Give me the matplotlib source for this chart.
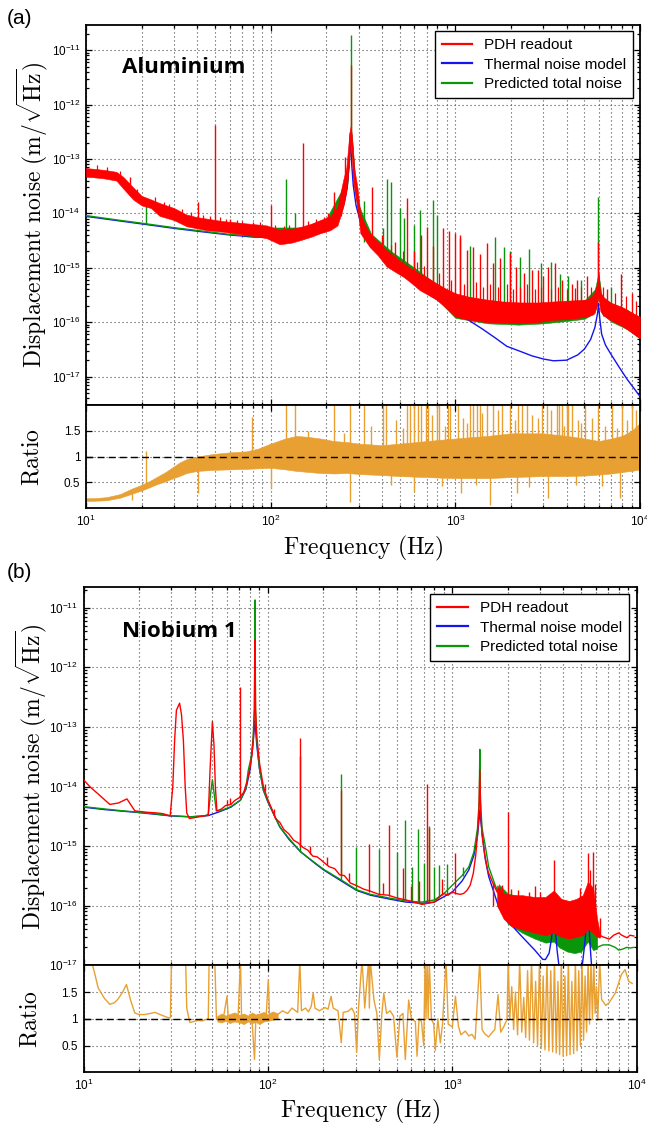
import numpy as np
import matplotlib
matplotlib.use('Agg')
import matplotlib.pyplot as plt
from matplotlib.ticker import LogLocator, NullFormatter, FixedLocator
from matplotlib.lines import Line2D

plt.rcParams['font.family'] = ['Liberation Sans', 'DejaVu Sans']
plt.rcParams['mathtext.fontset'] = 'custom'
plt.rcParams['mathtext.rm'] = 'Liberation Sans'
plt.rcParams['mathtext.it'] = 'Liberation Sans:italic'
plt.rcParams['mathtext.bf'] = 'Liberation Sans:bold'

RED, BLUE, GREEN, ORANGE = '#ff0000', '#1414f0', '#0a960a', '#e8a033'

# ---------------- (a) Aluminium ----------------
al_blue = [(10, 8.8e-15), (15, 7.3e-15), (20, 6.4e-15), (30, 5.3e-15), (40, 4.7e-15), (60, 4.0e-15),
           (80, 3.7e-15), (100, 3.6e-15), (130, 3.7e-15), (160, 4.1e-15), (200, 5.4e-15), (230, 8.0e-15),
           (250, 1.5e-14), (260, 3.2e-14), (266, 9e-14), (270, 3e-13), (274, 9e-14), (280, 3.3e-14),
           (290, 1.4e-14), (310, 6.0e-15), (350, 2.8e-15), (400, 1.7e-15), (500, 8.5e-16), (700, 3.5e-16),
           (1000, 1.55e-16), (1200, 1.05e-16), (1400, 7.5e-17), (1650, 5.1e-17), (1900, 3.6e-17),
           (2250, 2.9e-17), (2600, 2.4e-17), (3000, 2.1e-17), (3400, 1.95e-17), (4000, 2.0e-17),
           (4600, 2.5e-17), (5000, 3.2e-17), (5400, 4.8e-17), (5700, 8e-17), (5900, 1.5e-16),
           (5960, 2.2e-16), (6050, 1.2e-16), (6200, 6e-17), (6500, 3.8e-17), (6900, 2.7e-17),
           (7700, 1.5e-17), (8500, 9e-18), (9300, 6e-18), (10000, 4.3e-18)]

al_green_line = [(10, 9.1e-15), (15, 7.5e-15), (20, 6.6e-15), (30, 5.45e-15), (40, 4.85e-15),
                 (60, 4.1e-15), (80, 3.8e-15), (100, 3.7e-15)]
al_green_band_f = [70, 100, 150, 200, 240, 260, 268, 272, 276, 285, 300, 350, 450, 600, 800, 1000,
                   1500, 2200, 3000, 4000, 5000, 5700, 5960, 6200, 7000, 8500, 10000]
al_green_band_lo = [3.8e-15, 3.6e-15, 3.9e-15, 5.3e-15, 1.0e-14, 3.2e-14, 1.2e-13, 2.5e-13, 1.2e-13,
                    3e-14, 8e-15, 2.5e-15, 1.1e-15, 5e-16, 2.6e-16, 1.2e-16, 9.5e-17, 9e-17, 9.5e-17,
                    1.05e-16, 1.15e-16, 1.5e-16, 3e-16, 1.45e-16, 1.02e-16, 7.5e-17, 5e-17]
al_green_band_hi = [5.5e-15, 5.5e-15, 5.5e-15, 8e-15, 2.5e-14, 6e-14, 2.5e-13, 3.5e-13, 2.5e-13,
                    5e-14, 1.4e-14, 4.2e-15, 2e-15, 1e-15, 4.8e-16, 3.2e-16, 2.5e-16, 2.2e-16,
                    2.2e-16, 2.4e-16, 2.5e-16, 4e-16, 8e-16, 3e-16, 2.2e-16, 1.7e-16, 1.2e-16]

al_red_band = [  # freq, low edge, high edge
    (10, 4.7e-14, 6.8e-14), (11, 4.6e-14, 6.6e-14), (12.5, 4.4e-14, 6.3e-14), (14.6, 4.0e-14, 5.8e-14),
    (16, 2.8e-14, 4.6e-14), (18, 1.8e-14, 3.0e-14), (20, 1.4e-14, 2.1e-14), (22.5, 1.25e-14, 1.8e-14),
    (25, 9e-15, 1.55e-14), (30, 7.5e-15, 1.25e-14), (35, 5.8e-15, 9.5e-15), (40, 5.3e-15, 8.5e-15),
    (45, 4.9e-15, 8.0e-15), (55, 4.6e-15, 7.2e-15), (63, 4.3e-15, 6.9e-15), (75, 4.0e-15, 6.5e-15),
    (95, 3.5e-15, 6.0e-15), (112, 2.7e-15, 5.0e-15), (130, 2.9e-15, 5.2e-15), (144, 3.2e-15, 5.6e-15),
    (165, 3.7e-15, 6.4e-15), (185, 4.3e-15, 7.5e-15), (210, 4.9e-15, 8.8e-15), (230, 6.0e-15, 1.3e-14),
    (247, 1.3e-14, 4.1e-14), (257, 2.5e-14, 7e-14), (263, 5.4e-14, 1.7e-13), (267, 1.1e-13, 3e-13),
    (271, 2.2e-13, 4e-13), (275, 1.2e-13, 2.8e-13), (279, 4.1e-14, 1.45e-13), (285, 2.5e-14, 6e-14),
    (295, 1.3e-14, 3e-14), (306, 4.3e-15, 1.0e-14), (325, 3.2e-15, 6e-15), (344, 2.4e-15, 4.3e-15),
    (380, 1.7e-15, 3.0e-15), (425, 1.05e-15, 2.1e-15), (470, 8.5e-16, 1.6e-15), (524, 6.8e-16, 1.2e-15),
    (580, 5.2e-16, 9.5e-16), (640, 3.9e-16, 7.8e-16), (710, 3.2e-16, 6.5e-16), (790, 2.6e-16, 5.2e-16),
    (880, 1.9e-16, 4.2e-16), (1000, 1.26e-16, 3.4e-16), (1200, 1.1e-16, 2.9e-16), (1480, 1.0e-16, 2.6e-16),
    (1800, 9.8e-17, 2.4e-16), (2250, 9.6e-17, 2.3e-16), (2800, 1.0e-16, 2.3e-16), (3400, 1.1e-16, 2.4e-16),
    (4200, 1.15e-16, 2.5e-16), (5160, 1.26e-16, 2.6e-16), (5600, 1.4e-16, 3.2e-16), (5850, 2e-16, 5e-16),
    (5960, 3e-16, 8e-16), (6100, 1.6e-16, 3.5e-16), (6400, 1.3e-16, 2.8e-16), (6920, 1.1e-16, 2.3e-16),
    (8000, 8.5e-17, 1.9e-16), (9000, 6.5e-17, 1.5e-16), (10000, 5e-17, 1.26e-16)]

al_red_spikes = [  # freq, base, top
    (17.3, 2.2e-14, 4.7e-14), (40.6, 6e-15, 1.6e-14), (50, 5e-15, 4.2e-13), (60, 4.5e-15, 8e-15),
    (100, 4e-15, 1.4e-14), (150, 3.5e-15, 2.0e-13), (220, 6e-15, 2.5e-14), (253, 2.5e-14, 1.1e-13),
    (271, 3e-13, 5.3e-12), (354, 2.5e-15, 3.1e-14), (400, 1.6e-15, 4e-15), (470, 9e-16, 3e-15),
    (548, 7e-16, 1.9e-14), (600, 5e-16, 2e-15), (650, 4e-16, 4e-15), (700, 3.5e-16, 5.5e-15),
    (760, 3e-16, 2.5e-15), (860, 2.2e-16, 5.3e-15), (920, 2e-16, 4.8e-15), (1000, 1.5e-16, 4.3e-15),
    (1060, 1.4e-16, 4.0e-15), (1150, 1.3e-16, 2.1e-15), (1250, 1.2e-16, 2.4e-15), (1360, 1.1e-16, 1.8e-15),
    (1480, 1.1e-16, 2.8e-15), (1600, 1.1e-16, 1.2e-15), (1750, 1.1e-16, 1.5e-15), (1980, 1.1e-16, 1.9e-15),
    (2140, 1.1e-16, 1.05e-15), (2350, 1.1e-16, 8e-16), (2600, 1.1e-16, 9e-16), (2800, 1.1e-16, 9e-16),
    (3000, 1.1e-16, 7e-16), (3170, 1.2e-16, 1.05e-15), (3450, 1.2e-16, 1.2e-15), (3800, 1.2e-16, 6e-16),
    (4300, 1.2e-16, 5e-16), (4560, 1.3e-16, 6e-16), (5150, 1.3e-16, 7e-16), (5960, 5e-16, 3e-15),
    (6600, 1.2e-16, 4e-16), (7900, 9e-17, 7.8e-16), (9000, 7e-17, 3.5e-16)]

al_red_hair = [  # small noise excursions above the red band
    (11.5, 5.5e-14, 7.6e-14), (13, 5e-14, 7.2e-14), (15.2, 4e-14, 6e-14), (19, 1.8e-14, 2.8e-14),
    (23.5, 1.3e-14, 2e-14), (26.5, 9e-15, 1.6e-14), (28, 9e-15, 1.5e-14), (33, 7e-15, 1.2e-14),
    (37, 6e-15, 1.05e-14), (43, 5.5e-15, 9.5e-15), (47, 5e-15, 9e-15), (53, 5e-15, 8.5e-15),
    (57, 4.8e-15, 8e-15), (66, 4.5e-15, 7.5e-15), (70, 4.3e-15, 7.3e-15), (80, 4e-15, 7e-15),
    (88, 3.8e-15, 6.8e-15), (105, 3.2e-15, 6e-15), (118, 3e-15, 5.8e-15), (125, 3e-15, 6e-15),
    (160, 4e-15, 7.2e-15), (175, 4.2e-15, 8e-15), (195, 4.5e-15, 8.5e-15), (205, 5e-15, 1e-14),
    (240, 9e-15, 2e-14), (450, 1.2e-15, 2.6e-15), (520, 9e-16, 2e-15), (620, 6e-16, 1.3e-15),
    (680, 5e-16, 1.1e-15), (820, 3e-16, 8e-16), (950, 2e-16, 6e-16), (1120, 1.5e-16, 5e-16),
    (1300, 1.3e-16, 5.5e-16), (1420, 1.2e-16, 4.5e-16), (1550, 1.2e-16, 5e-16), (1700, 1.1e-16, 4.5e-16),
    (1900, 1.1e-16, 5e-16), (2050, 1.1e-16, 4e-16), (2250, 1.1e-16, 4.5e-16), (2450, 1.1e-16, 5e-16),
    (2700, 1.1e-16, 4e-16), (2900, 1.1e-16, 4.5e-16), (3300, 1.2e-16, 4e-16), (3600, 1.2e-16, 4.5e-16),
    (4000, 1.2e-16, 4e-16), (4450, 1.2e-16, 4.2e-16), (4800, 1.3e-16, 4.5e-16), (5400, 1.4e-16, 4.5e-16),
    (6300, 1.3e-16, 4.5e-16), (7300, 1e-16, 3.5e-16), (8400, 8e-17, 3e-16), (9500, 6e-17, 2.5e-16)]

al_green_spikes = [
    (21.2, 6.3e-15, 1.4e-14), (121, 3.5e-15, 4.2e-14), (136, 3.5e-15, 1.0e-14), (271, 3e-13, 1.9e-11),
    (322, 3e-15, 1.7e-14), (405, 1.5e-15, 5.3e-15), (425, 1.2e-15, 4.2e-14), (447, 1.1e-15, 3.8e-14),
    (500, 9e-16, 1.25e-14), (524, 8e-16, 8.2e-15), (600, 5e-16, 6e-15), (640, 4e-16, 1.15e-14),
    (755, 3e-16, 1.75e-14), (800, 3e-16, 9.3e-15), (1060, 1.4e-16, 3.5e-15), (1200, 1.2e-16, 2.5e-15),
    (1640, 1.1e-16, 3.7e-15), (1830, 1.1e-16, 2.4e-15), (1980, 1.1e-16, 2e-15), (2250, 1.1e-16, 1.6e-15),
    (2500, 1.1e-16, 2.2e-15), (2900, 1.1e-16, 1.2e-15), (3300, 1.2e-16, 1.3e-15), (3690, 1.2e-16, 7.8e-16),
    (4100, 1.2e-16, 7e-16), (4800, 1.3e-16, 6e-16), (5960, 5e-16, 2.0e-14), (7000, 1.2e-16, 4.5e-16)]

al_ratio_band = [  # freq, low, high
    (10, 0.14, 0.19), (11, 0.14, 0.19), (12.9, 0.15, 0.21), (15.3, 0.20, 0.27), (17.8, 0.28, 0.38),
    (20, 0.34, 0.45), (22, 0.40, 0.52), (24.1, 0.46, 0.60), (27, 0.52, 0.70), (29.7, 0.58, 0.80),
    (32, 0.62, 0.88), (35.1, 0.68, 0.95), (40, 0.72, 1.0), (49, 0.74, 1.05), (60, 0.75, 1.08),
    (74, 0.76, 1.10), (85, 0.77, 1.15), (100, 0.78, 1.25), (120, 0.75, 1.35), (138, 0.72, 1.40),
    (160, 0.70, 1.38), (185, 0.68, 1.35), (220, 0.67, 1.30), (260, 0.68, 1.28), (300, 0.66, 1.25),
    (400, 0.64, 1.22), (500, 0.62, 1.25), (700, 0.60, 1.30), (1000, 0.58, 1.35), (1500, 0.58, 1.40),
    (2000, 0.60, 1.45), (3000, 0.62, 1.45), (4000, 0.62, 1.40), (5000, 0.63, 1.35), (6000, 0.65, 1.30),
    (7000, 0.67, 1.35), (8000, 0.70, 1.40), (9000, 0.72, 1.50), (10000, 0.75, 1.65)]

al_ratio_up_f = [121, 136, 220, 270, 322, 408, 421, 546, 569, 600, 631, 650, 692, 715, 794, 817, 910,
                 937, 1040, 1203, 1253, 1307, 1362, 1481, 1608, 1785, 1982, 2198, 2291, 2438, 2942,
                 3132, 3548, 3650, 3776, 4018, 4100, 4277, 5050, 5960, 7040, 7980, 9040]
al_ratio_mid = [(21, 0.42, 1.1), (79, 1.0, 1.76), (350, 1.1, 1.6), (480, 1.1, 1.7), (750, 1.2, 1.8),
                (1100, 1.2, 1.75), (1400, 1.2, 1.85), (1700, 1.2, 1.9), (2600, 1.3, 1.8),
                (3300, 1.3, 1.9), (4600, 1.3, 1.7), (5500, 1.3, 1.75), (6500, 1.2, 1.6),
                (8500, 1.3, 1.7), (9500, 1.4, 1.9), (160, 1.2, 1.5), (250, 1.2, 1.45), (520, 1.2, 1.55),
                (880, 1.2, 1.6), (1150, 1.3, 1.65), (2100, 1.3, 1.7), (2800, 1.3, 1.75),
                (3900, 1.3, 1.6), (4800, 1.3, 1.65), (7500, 1.3, 1.55)]
al_ratio_down = [(17.8, 0.15, 0.3), (40.3, 0.29, 0.8), (100, 0.37, 0.85), (270, 0.11, 0.8),
                 (601, 0.31, 0.8), (1073, 0.29, 0.8), (1543, 0.05, 0.8), (2150, 0.3, 0.8),
                 (3170, 0.2, 0.8), (7800, 0.19, 0.8), (450, 0.45, 0.8), (850, 0.42, 0.8),
                 (1300, 0.44, 0.8), (2500, 0.4, 0.8), (4500, 0.45, 0.8), (6200, 0.42, 0.8)]

# ---------------- (b) Niobium 1 ----------------
nb_blue = [(10, 4.5e-15), (13, 4.1e-15), (16.4, 3.85e-15), (20, 3.65e-15), (25, 3.4e-15), (30, 3.2e-15),
           (38, 3.1e-15), (47.5, 3.25e-15), (55, 3.8e-15), (63, 4.5e-15), (71, 5.9e-15), (76, 9e-15),
           (80, 1.9e-14), (83, 5e-14), (85, 1.3e-13), (87, 5e-14), (90, 2e-14), (94.5, 8.7e-15),
           (100, 5.5e-15), (116, 2.1e-15), (130, 1.3e-15), (150, 8.1e-16), (175, 5.5e-16), (200, 4.0e-16),
           (250, 2.6e-16), (303, 1.8e-16), (360, 1.5e-16), (452, 1.3e-16), (560, 1.15e-16), (685, 1.1e-16),
           (800, 1.15e-16), (1000, 1.7e-16), (1130, 2.6e-16), (1230, 4e-16), (1310, 7e-16), (1370, 1.5e-15),
           (1400, 3e-15), (1410, 4e-15), (1430, 2.5e-15), (1480, 1e-15), (1510, 6e-16), (1575, 3.1e-16),
           (1783, 9.6e-17), (2000, 5.5e-17), (2395, 3e-17), (2800, 1.8e-17), (3090, 1.26e-17),
           (3200, 1.25e-17), (3350, 1.6e-17), (3450, 2.8e-17), (3520, 6e-17), (3560, 8e-17), (3600, 5e-17),
           (3700, 1.8e-17), (3800, 9e-18), (4000, 4e-18), (4500, 2e-18), (4900, 4e-18), (5050, 9e-18),
           (5200, 2e-17), (5350, 5e-17), (5430, 8.6e-17), (5500, 5e-17), (5600, 2e-17), (5700, 9e-18),
           (6000, 3e-18), (6500, 1.5e-18)]

nb_green = [(10, 4.6e-15), (13, 4.2e-15), (16.4, 3.9e-15), (20, 3.7e-15), (25, 3.45e-15), (29.5, 3.25e-15),
            (38, 3.1e-15), (45, 3.2e-15), (47.5, 3.4e-15), (49, 8e-15), (50, 1.3e-14), (51, 8e-15),
            (52.5, 3.9e-15), (55, 3.9e-15), (63, 4.6e-15), (71, 5.9e-15), (76, 9.5e-15), (78.3, 1.9e-14),
            (81, 3e-14), (83, 6e-14), (84.5, 2e-13), (85.1, 1.35e-11), (85.7, 2e-13), (87, 6e-14),
            (90, 2e-14), (94.5, 8.7e-15), (100, 5.6e-15), (116, 2.1e-15), (130, 1.35e-15), (150, 8.1e-16),
            (175, 5.6e-16), (200, 4.1e-16), (250, 2.7e-16), (303, 1.85e-16), (360, 1.55e-16),
            (452, 1.35e-16), (560, 1.2e-16), (685, 1.15e-16), (800, 1.25e-16), (900, 1.6e-16),
            (1000, 2.2e-16), (1130, 3.2e-16), (1230, 4.5e-16), (1310, 8e-16), (1370, 2e-15), (1400, 6e-15),
            (1410, 4.2e-14), (1420, 6e-15), (1450, 2e-15), (1510, 1e-15), (1575, 4.5e-16), (1700, 2.3e-16),
            (1783, 1.6e-16)]
nb_green_band = [(1783, 1e-16, 2.3e-16), (2000, 5e-17, 1.6e-16), (2400, 3.5e-17, 1.4e-16),
                 (2800, 2.8e-17, 1.3e-16), (3200, 2.4e-17, 1.3e-16), (3550, 2.5e-17, 1.5e-16),
                 (3800, 2e-17, 1.3e-16), (4200, 1.7e-17, 1.2e-16), (4600, 1.6e-17, 1.1e-16),
                 (5000, 1.7e-17, 1.2e-16), (5430, 2.5e-17, 2e-16), (5800, 1.8e-17, 6e-17),
                 (6100, 1.9e-17, 3.5e-17)]
nb_green_tail = [(6100, 2.0e-17), (6560, 2.2e-17), (7100, 2.2e-17), (7650, 2.0e-17), (7980, 1.8e-17),
                 (8300, 1.85e-17), (8850, 2.0e-17), (9200, 1.95e-17), (9650, 2.0e-17)]

nb_red = [(10, 1.3e-14), (10.8, 1e-14), (12, 7.5e-15), (13.9, 5e-15), (15.5, 5.3e-15), (17.2, 6.2e-15),
          (18, 5e-15), (19, 3.9e-15), (22, 3.7e-15), (25, 3.6e-15), (27, 3.5e-15), (29.5, 3.2e-15),
          (30.5, 1e-14), (31.2, 6e-14), (31.9, 1.9e-13), (33.2, 2.5e-13), (34, 1.6e-13), (34.8, 6e-14),
          (35.6, 1e-14), (36.3, 3.6e-15), (37.5, 2.9e-15), (40, 3.0e-15), (44.7, 3.2e-15), (47.5, 3.3e-15),
          (48.6, 2e-14), (50, 1.23e-13), (51, 5e-14), (51.9, 1e-14), (52.9, 3.9e-15), (56, 4.2e-15),
          (59, 4.8e-15), (63, 5e-15), (66, 5.8e-15), (70, 6.5e-15), (74, 8e-15), (77, 1.2e-14),
          (80, 2.1e-14), (82, 3.5e-14), (83.5, 7e-14), (84.5, 2e-13), (85.1, 2.9e-12), (85.7, 2e-13),
          (87, 7e-14), (90, 2.5e-14), (94.5, 1e-14), (100, 6e-15), (105, 4.2e-15), (110, 2.9e-15),
          (116, 2.5e-15), (122, 1.9e-15), (130, 1.6e-15), (138, 1.25e-15), (145, 1.15e-15), (155, 9.5e-16),
          (165, 8.5e-16), (175, 6.8e-16), (185, 6.6e-16), (195, 5.8e-16), (200, 5.4e-16), (215, 4.5e-16),
          (230, 4.2e-16), (245, 3.3e-16), (260, 3.2e-16), (280, 2.4e-16), (300, 2.2e-16), (330, 1.9e-16),
          (360, 1.75e-16), (400, 1.55e-16), (450, 1.5e-16), (500, 1.35e-16), (560, 1.25e-16),
          (620, 1.15e-16), (685, 1.05e-16), (740, 1.1e-16), (800, 1.15e-16), (850, 1.4e-16), (900, 1.6e-16),
          (950, 1.5e-16), (1000, 1.7e-16), (1050, 1.6e-16), (1100, 1.55e-16), (1150, 1.6e-16),
          (1200, 1.8e-16), (1250, 2.2e-16), (1300, 3.5e-16), (1340, 7e-16), (1370, 1.6e-15),
          (1395, 4e-15), (1410, 1.9e-14), (1425, 4e-15), (1450, 1.5e-15), (1500, 7e-16), (1560, 3.8e-16),
          (1650, 2.5e-16), (1750, 1.7e-16)]
nb_red_band = [(1750, 1e-16, 2.2e-16), (1900, 6e-17, 1.6e-16), (2100, 4.5e-17, 1.5e-16),
               (2400, 4e-17, 1.5e-16), (2800, 3.5e-17, 1.4e-16), (3200, 3.2e-17, 1.4e-16),
               (3550, 3.5e-17, 1.8e-16), (3900, 3e-17, 1.3e-16), (4300, 2.8e-17, 1.2e-16),
               (4700, 3e-17, 1.3e-16), (5100, 3.2e-17, 1.5e-16), (5430, 4e-17, 2.5e-16),
               (5800, 3.5e-17, 2e-16), (6100, 3e-17, 6e-17), (6300, 2.9e-17, 3.5e-17)]
nb_red_tail = [(6300, 3.2e-17), (6560, 3.0e-17), (7100, 2.75e-17), (7500, 3.2e-17), (7980, 3.5e-17),
               (8300, 3.2e-17), (8850, 2.9e-17), (9200, 3.2e-17), (9650, 3.1e-17)]

nb_red_spikes = [(59.8, 4.8e-15, 5.9e-15), (70.7, 6.5e-15, 4.7e-13), (150, 9.5e-16, 6.4e-14),
                 (250, 3.2e-16, 8.7e-15), (352, 1.7e-16, 1.1e-15), (452, 1.45e-16, 2.3e-15),
                 (540, 1.25e-16, 4.3e-16), (730, 1.1e-16, 1.1e-14), (750, 1.1e-16, 2.0e-15),
                 (1040, 1.6e-16, 7.8e-16), (1670, 1e-16, 2.4e-16), (1860, 8e-17, 2.2e-16),
                 (2010, 6e-17, 3.8e-15), (2080, 5e-17, 1.9e-16), (2270, 5e-17, 1.8e-16),
                 (2620, 4e-17, 1.7e-16), (2820, 4e-17, 2.1e-16), (3000, 4e-17, 1.7e-16),
                 (3550, 4e-17, 5.9e-16), (4950, 4e-17, 2e-16), (5430, 5e-17, 7.6e-16),
                 (5600, 4e-17, 4e-16), (5780, 4e-17, 8e-16), (5950, 3.5e-17, 2.3e-16), (6350, 3e-17, 6.3e-17),
                 (62.5, 5e-15, 6.3e-15), (96, 8.5e-15, 1.1e-14), (108, 3.3e-15, 4.2e-15),
                 (170, 7.5e-16, 1.0e-15), (210, 4.8e-16, 6.5e-16), (275, 2.6e-16, 3.6e-16),
                 (420, 1.55e-16, 2.4e-16), (600, 1.2e-16, 2.1e-16), (660, 1.1e-16, 2.6e-16),
                 (880, 1.5e-16, 2.8e-16)]
nb_green_spikes = [(150, 8.1e-16, 3.2e-14), (250, 2.7e-16, 1.6e-14), (300, 1.85e-16, 9.8e-16),
                   (402, 1.5e-16, 8.9e-16), (500, 1.35e-16, 8.1e-16), (556, 1.25e-16, 2.7e-15),
                   (604, 1.2e-16, 4.4e-16), (650, 1.2e-16, 1.9e-15), (700, 1.15e-16, 5.2e-16),
                   (750, 1.15e-16, 2.2e-15), (800, 1.25e-16, 4.5e-16), (850, 1.35e-16, 4.8e-16),
                   (935, 1.6e-16, 5e-16), (1150, 3.2e-16, 4.5e-16)]

nb_ratio = [(11.0, 2.1), (11.5, 1.85), (12.0, 1.58), (13.0, 1.38), (13.9, 1.27), (14.7, 1.30), (15.4, 1.37),
            (16.3, 1.5), (17.1, 1.64), (18.0, 1.35), (18.96, 1.11), (20, 1.08), (21.5, 1.08), (23, 1.10),
            (24.4, 1.12), (26, 1.08), (28.8, 1.02), (29.6, 1.02), (30.0, 2.1), (35.8, 2.1), (36.3, 1.2),
            (37.7, 0.93), (41.7, 0.97), (44, 0.96), (46.4, 0.99), (47.5, 1.0), (48.0, 2.1), (51.5, 2.1),
            (52.6, 1.0), (55, 1.05), (57, 0.96), (60, 1.42), (61, 1.0), (63, 0.95), (65, 1.05), (67, 0.97),
            (69, 1.08), (71, 2.1), (72, 1.0), (74, 0.94), (76, 1.06), (78, 0.96), (80, 1.08), (82, 0.97),
            (84.6, 0.24), (86, 1.0), (88, 1.08), (90, 0.95), (93, 1.1), (96, 0.98), (98, 1.1), (100.5, 1.73),
            (102, 1.05), (105, 1.1), (108, 1.02), (113, 1.08), (120, 1.15), (128, 1.1), (135, 1.2),
            (139, 1.17), (145, 1.12), (149, 2.1), (152, 1.15), (160, 1.2), (166, 1.13), (172, 1.24),
            (176, 1.49), (180, 1.2), (190, 1.15), (204, 1.21), (212, 1.18), (220, 1.42), (226, 1.2),
            (240, 1.15), (250, 0.55), (256, 1.12), (272, 1.14), (285, 1.2), (295, 1.1), (303, 0.37),
            (310, 1.2), (324, 2.1), (335, 1.2), (352, 2.1), (355, 1.2), (359, 2.1), (376, 1.35), (390, 1.1),
            (402, 0.24), (415, 1.1), (425, 1.48), (440, 1.1), (460, 1.15), (480, 1.05), (501, 0.28),
            (520, 1.05), (540, 1.1), (556, 0.24), (580, 1.35), (600, 1.0), (630, 0.95), (644, 0.3),
            (660, 1.0), (680, 0.95), (700, 0.5), (712, 2.1), (720, 1.0), (730, 2.1), (740, 1.0), (750, 2.1),
            (770, 1.0), (793, 0.9), (809, 0.41), (835, 1.0), (861, 0.55), (885, 0.9), (925, 2.1), (950, 0.9),
            (1000, 0.85), (1040, 1.42), (1080, 0.86), (1114, 0.7), (1175, 0.77), (1230, 0.68), (1277, 0.71),
            (1330, 0.62), (1410, 2.1), (1450, 0.8), (1500, 0.72), (1573, 0.66), (1650, 0.75), (1700, 0.8),
            (1770, 1.45), (1830, 0.75), (1900, 0.85), (1980, 0.99), (2010, 2.1), (2050, 1.0), (2100, 1.6),
            (2150, 0.8), (2200, 1.5), (2260, 0.7), (2320, 2.1), (2380, 0.75), (2440, 1.4), (2500, 0.65),
            (2560, 1.9), (2620, 0.6), (2690, 2.1), (2760, 0.55), (2830, 1.7), (2900, 0.5), (2970, 2.1),
            (3040, 0.45), (3110, 1.8), (3180, 0.42), (3260, 2.1), (3340, 0.4), (3420, 1.9), (3500, 0.38),
            (3580, 2.1), (3660, 0.36), (3740, 1.7), (3820, 0.33), (3900, 2.1), (3990, 0.3), (4080, 1.8),
            (4170, 0.31), (4260, 2.1), (4350, 0.33), (4450, 1.7), (4550, 0.35), (4650, 2.1), (4750, 0.4),
            (4850, 1.9), (4950, 0.5), (5050, 2.1), (5150, 0.6), (5250, 1.8), (5350, 0.75), (5450, 2.1),
            (5550, 0.9), (5650, 2.1), (5750, 1.0), (5850, 2.1), (5950, 1.1), (6050, 1.6), (6150, 0.97),
            (6300, 2.1), (6450, 1.36), (6800, 1.25), (7080, 1.30), (7650, 1.48), (8270, 1.83), (8650, 1.92),
            (9050, 1.70), (9450, 1.66)]
nb_ratio_band = [(53, 0.95, 1.05), (56, 0.93, 1.1), (59, 0.96, 1.06), (62, 0.92, 1.09), (66, 0.95, 1.12),
                 (70, 0.93, 1.07), (74, 0.9, 1.1), (78, 0.95, 1.06), (82, 0.92, 1.12), (86, 0.94, 1.08),
                 (90, 0.9, 1.1), (95, 0.95, 1.13), (100, 0.96, 1.08), (106, 0.98, 1.14), (113, 1.0, 1.1)]

main_yticks = [1e-17, 1e-16, 1e-15, 1e-14, 1e-13, 1e-12, 1e-11]
ratio_yticks = [0.5, 1, 1.5]
ratio_yticklabels = ['0.5', '1', '1.5']
legend_labels = ['PDH readout', 'Thermal noise model', 'Predicted total noise']
panel_names = ['Aluminium', 'Niobium 1']
panel_tags = ['(a)', '(b)']

# ---------------- figure ----------------
W, H = 647, 1128
fig = plt.figure(figsize=(W / 100, H / 100), dpi=100)


def fax(x0, x1, y0, y1):
    return fig.add_axes([x0 / W, 1 - y1 / H, (x1 - x0) / W, (y1 - y0) / H])


ax1 = fax(86, 640, 25, 405)
ax1r = fax(86, 640, 405, 508)
ax2 = fax(83.5, 636.7, 587.3, 965.3)
ax2r = fax(83.5, 636.7, 965.3, 1072.3)

GRID = dict(ls=(0, (1, 2.6)), color='0.3', lw=0.8)


def common_x(ax):
    ax.set_xscale('log')
    ax.set_xlim(10, 1e4)
    ax.xaxis.set_major_locator(FixedLocator([10, 100, 1000, 10000]))
    ax.xaxis.set_minor_locator(LogLocator(10, subs=np.arange(2, 10), numticks=40))
    ax.xaxis.set_minor_formatter(NullFormatter())
    ax.tick_params(which='both', direction='in', top=True, right=True, width=0.9, labelsize=8.5)
    ax.tick_params(which='major', length=4.5, pad=4)
    ax.tick_params(which='minor', length=2.3)
    ax.grid(True, which='major', axis='x', **GRID)
    ax.grid(True, which='minor', axis='x', **GRID)
    ax.grid(True, which='major', axis='y', **GRID)
    ax.set_axisbelow(True)
    for s in ax.spines.values():
        s.set_linewidth(1.3)


def style_main(ax, ylim):
    common_x(ax)
    ax.set_yscale('log')
    ax.set_ylim(*ylim)
    ax.yaxis.set_major_locator(FixedLocator(main_yticks))
    ax.yaxis.set_minor_locator(LogLocator(10, subs=np.arange(2, 10), numticks=60))
    ax.yaxis.set_minor_formatter(NullFormatter())
    ax.tick_params(axis='x', which='both', labelbottom=False)
    ax.set_ylabel(r'$\mathrm{Displacement\ noise\ (m/\sqrt{Hz})}$', fontsize=17, math_fontfamily='cm')
    ax.yaxis.label.set_va('center')


def style_ratio(ax):
    common_x(ax)
    ax.set_ylim(0, 2)
    ax.set_yticks(ratio_yticks)
    ax.set_yticklabels(ratio_yticklabels)
    ax.axhline(1, color='k', ls=(0, (5, 3)), lw=1.0, zorder=6)
    ax.set_ylabel(r'$\mathrm{Ratio}$', fontsize=17, math_fontfamily='cm')
    ax.yaxis.label.set_va('center')
    ax.set_xlabel(r'$\mathrm{Frequency\ (Hz)}$', fontsize=17, math_fontfamily='cm')
    ax.xaxis.label.set_va('center')


def unz(pairs):
    return [list(c) for c in zip(*pairs)]


def band(ax, data, color, z):
    f, lo, hi = unz(data)
    ax.fill_between(f, lo, hi, color=color, lw=0.4, edgecolor=color, zorder=z)


def spikes(ax, data, color, z, lw=1.0):
    f, lo, hi = unz(data)
    ax.vlines(f, lo, hi, color=color, lw=lw, zorder=z)


# ----- panel (a)
style_main(ax1, (3e-18, 2.9e-11))
band(ax1, list(zip(al_green_band_f, al_green_band_lo, al_green_band_hi)), GREEN, 2)
f, v = unz(al_blue)
ax1.plot(f, v, color=BLUE, lw=1.0, zorder=3)
f, v = unz(al_green_line)
ax1.plot(f, v, color=GREEN, lw=1.0, zorder=3.5)
spikes(ax1, al_green_spikes, GREEN, 3.6)
band(ax1, al_red_band, RED, 4)
spikes(ax1, al_red_hair, RED, 4.4, lw=0.9)
spikes(ax1, al_red_spikes, RED, 4.5)

style_ratio(ax1r)
band(ax1r, al_ratio_band, ORANGE, 2)
ax1r.vlines(al_ratio_up_f, 1.1, 2.1, color=ORANGE, lw=1.0, zorder=2.5)
spikes(ax1r, al_ratio_mid, ORANGE, 2.5)
spikes(ax1r, al_ratio_down, ORANGE, 2.5)

# ----- panel (b)
style_main(ax2, (1e-17, 2.2e-11))
band(ax2, nb_green_band, GREEN, 2)
f, v = unz(nb_blue)
ax2.plot(f, v, color=BLUE, lw=1.0, zorder=3)
f, v = unz(nb_green)
ax2.plot(f, v, color=GREEN, lw=1.0, zorder=3.5)
f, v = unz(nb_green_tail)
ax2.plot(f, v, color=GREEN, lw=1.0, zorder=3.5)
spikes(ax2, nb_green_spikes, GREEN, 3.6)
band(ax2, nb_red_band, RED, 4)
f, v = unz(nb_red)
ax2.plot(f, v, color=RED, lw=1.0, zorder=4.2)
f, v = unz(nb_red_tail)
ax2.plot(f, v, color=RED, lw=1.0, zorder=4.2)
spikes(ax2, nb_red_spikes, RED, 4.5)

style_ratio(ax2r)
band(ax2r, nb_ratio_band, ORANGE, 2)
f, v = unz(nb_ratio)
ax2r.plot(f, v, color=ORANGE, lw=1.0, zorder=2.5)

# label placement
ax1.yaxis.set_label_coords(-0.097, 0.5)
ax1r.yaxis.set_label_coords(-0.097, 0.5)
ax1r.xaxis.set_label_coords(0.5, -(548 - 508) / 103)
ax2.yaxis.set_label_coords(-0.095, 0.5)
ax2r.yaxis.set_label_coords(-0.095, 0.5)
ax2r.xaxis.set_label_coords(0.5, -(1111.7 - 1072.3) / 107)

handles = [Line2D([], [], color=c, lw=1.6) for c in (RED, BLUE, GREEN)]
for ax, anchor in ((ax1, (0.988, 0.983)), (ax2, (0.986, 0.981))):
    leg = ax.legend(handles, legend_labels, loc='upper right', bbox_to_anchor=anchor, borderaxespad=0,
                    fontsize=11, frameon=True, fancybox=False, framealpha=1, edgecolor='k',
                    handlelength=2.0, handletextpad=0.8, labelspacing=0.35, borderpad=0.45)
    leg.get_frame().set_linewidth(1.0)
    leg.set_zorder(10)

ax1.text(0.065, 0.887, panel_names[0], transform=ax1.transAxes, fontsize=16, fontweight='bold',
         family='Open Sans', ha='left', va='center')
ax2.text(0.069, 0.884, panel_names[1], transform=ax2.transAxes, fontsize=16, fontweight='bold',
         family='Open Sans', ha='left', va='center')
fig.text(7 / W, 1 - 18 / H, panel_tags[0], fontsize=15, ha='left', va='center')
fig.text(7 / W, 1 - 572.5 / H, panel_tags[1], fontsize=15, ha='left', va='center')

fig.savefig('out.png', dpi=100)
